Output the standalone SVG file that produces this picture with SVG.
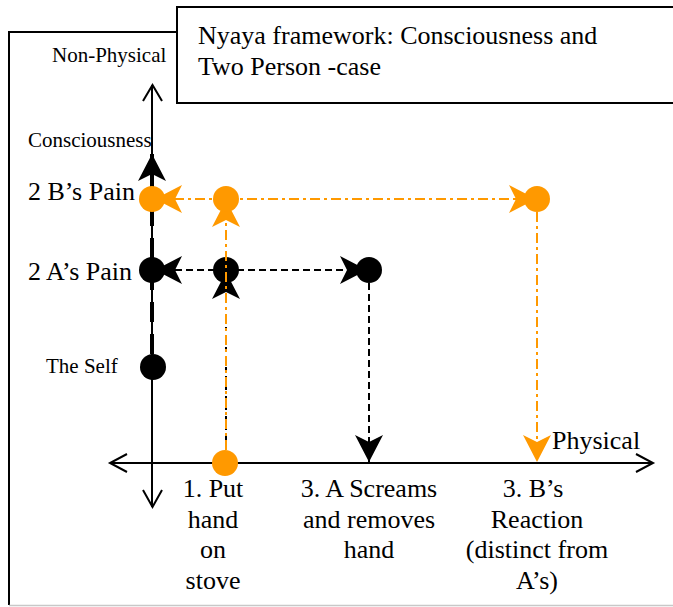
<svg xmlns="http://www.w3.org/2000/svg" width="673" height="607" viewBox="0 0 673 607">
  <style>
    text { font-family: "Liberation Serif", "Times New Roman", serif; fill: #000; }
    .t26 { font-size: 26px; }
    .t21 { font-size: 21px; }
    .mid { text-anchor: middle; }
    .axis { stroke: #000; stroke-width: 2; fill: none; }
    .kdash { stroke: #000; stroke-width: 2; fill: none; stroke-dasharray: 7 4; }
    .odash { stroke: #FF9900; stroke-width: 2; fill: none; stroke-dasharray: 10 4 3 4; }
    .kdashdot { stroke: #000; stroke-width: 2; fill: none; stroke-dasharray: 3 5 6 6; }
    .thick { stroke: #000; stroke-width: 4; fill: none; stroke-dasharray: 20 12; }
    .nodeK { fill: #000; }
    .nodeO { fill: #FF9900; }
  </style>
  <defs>
    <marker id="arrK" markerUnits="userSpaceOnUse" markerWidth="40" markerHeight="40" refX="30" refY="20" orient="auto">
      <path d="M30,20 L3,6 L10,20 L3,34 Z" fill="#000"/>
    </marker>
    <marker id="arrO" markerUnits="userSpaceOnUse" markerWidth="40" markerHeight="40" refX="30" refY="20" orient="auto">
      <path d="M30,20 L3,6 L10,20 L3,34 Z" fill="#FF9900"/>
    </marker>
  </defs>

  <!-- frame -->
  <g id="frame">
    <line x1="9" y1="32" x2="9" y2="605" stroke="#000" stroke-width="2"/>
    <line x1="8" y1="32" x2="177" y2="32" stroke="#000" stroke-width="2"/>
    <line x1="9" y1="605.5" x2="673" y2="605.5" stroke="#c8c8c8" stroke-width="1.5"/>
  </g>

  <!-- title -->
  <g id="title">
    <rect x="177" y="7" width="520" height="96" fill="#fff" stroke="#000" stroke-width="2"/>
    <text class="t26" x="198" y="44">Nyaya framework: Consciousness and</text>
    <text class="t26" x="198" y="75">Two Person -case</text>
  </g>

  <!-- axes -->
  <g id="axes">
    <line class="axis" x1="152" y1="85" x2="152" y2="507"/>
    <polyline class="axis" points="143,101 152.5,85 162,101"/>
    <polyline class="axis" points="143,490 152.5,507 162,490"/>
    <line class="axis" x1="110" y1="463" x2="653" y2="463"/>
    <polyline class="axis" points="127,454 110,463 127,472"/>
    <polyline class="axis" points="636,454 653,463 636,472"/>
  </g>

  <!-- connectors -->
  <g id="connectors">
    <!-- consciousness: self up -->
    <line class="thick" x1="152" y1="354" x2="152" y2="154" marker-end="url(#arrK)"/>
    <!-- A's pain branch (black) -->
    <line class="kdashdot" x1="226" y1="450" x2="226" y2="272" marker-end="url(#arrK)"/>
    <line class="kdash" x1="226" y1="270" x2="155" y2="270" marker-end="url(#arrK)"/>
    <line class="kdash" x1="226" y1="270" x2="367" y2="270" marker-end="url(#arrK)"/>
    <line class="kdash" x1="369" y1="283" x2="369" y2="462" marker-end="url(#arrK)"/>
  </g>

  <g id="node-self"><circle class="nodeK" cx="153" cy="367" r="13"/></g>
  <g id="node-a-pain-consc"><circle class="nodeK" cx="152" cy="270" r="13"/></g>
  <g id="node-a-pain"><circle class="nodeK" cx="226" cy="270" r="13"/></g>
  <g id="node-a-screams"><circle class="nodeK" cx="369" cy="270" r="13"/></g>

  <g id="connectors-orange">
    <line class="odash" x1="226" y1="450" x2="226" y2="200" marker-end="url(#arrO)"/>
    <line class="odash" x1="226" y1="199" x2="155" y2="199" marker-end="url(#arrO)"/>
    <line class="odash" x1="226" y1="199" x2="536" y2="199" marker-end="url(#arrO)"/>
    <line class="odash" x1="537" y1="212" x2="537" y2="462" marker-end="url(#arrO)"/>
  </g>

  <g id="node-b-pain-consc"><circle class="nodeO" cx="152" cy="199" r="13"/></g>
  <g id="node-b-pain"><circle class="nodeO" cx="226" cy="199" r="13"/></g>
  <g id="node-b-reaction"><circle class="nodeO" cx="537" cy="199" r="13"/></g>
  <g id="node-stove"><circle class="nodeO" cx="225" cy="463" r="13"/></g>

  <!-- labels -->
  <g id="labels">
    <text class="t21" x="52" y="62">Non-Physical</text>
    <text class="t21" x="28" y="147">Consciousness</text>
    <text class="t26" x="28" y="200">2 B’s Pain</text>
    <text class="t26" x="28" y="280">2 A’s Pain</text>
    <text class="t21" x="46" y="373">The Self</text>
    <text class="t26" x="552" y="449">Physical</text>

    <text class="t26 mid" x="213" y="497">1. Put</text>
    <text class="t26 mid" x="213" y="528">hand</text>
    <text class="t26 mid" x="213" y="558">on</text>
    <text class="t26 mid" x="213" y="589">stove</text>

    <text class="t26 mid" x="369" y="497">3. A Screams</text>
    <text class="t26 mid" x="369" y="528">and removes</text>
    <text class="t26 mid" x="369" y="558">hand</text>

    <text class="t26 mid" x="533" y="497">3. B’s</text>
    <text class="t26 mid" x="537" y="528">Reaction</text>
    <text class="t26 mid" x="537" y="558">(distinct from</text>
    <text class="t26 mid" x="537" y="589">A’s)</text>
  </g>
</svg>
